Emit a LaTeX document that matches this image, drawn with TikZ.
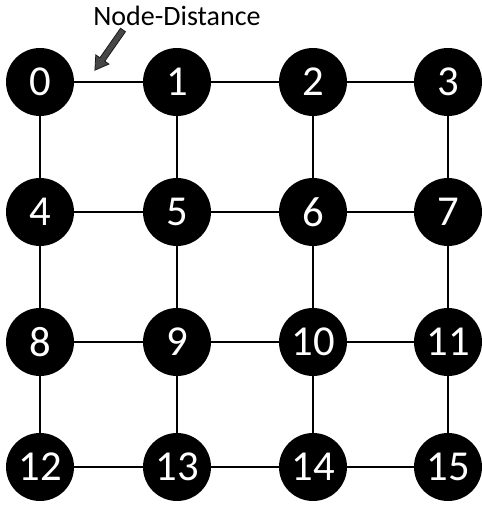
\documentclass[tikz,border=0pt]{standalone}
\usepackage{fontspec}
\setmainfont{Carlito}
\begin{document}
\begin{tikzpicture}[x=0.75pt,y=0.75pt,
  vert/.style={circle,fill=black,text=white,minimum size=51pt,inner sep=0pt,font=\fontsize{32}{32}\selectfont},
  edge/.style={draw=black,line width=1pt},
  lbl/.style={font=\fontsize{21}{21}\selectfont,inner sep=0pt}]
\useasboundingbox (0,0) rectangle (482,508);
\foreach \r/\y in {0/426,1/296,2/166,3/41}{
  \foreach \c/\x in {0/40,1/177,2/313,3/448}{
    \pgfmathtruncatemacro{\n}{\r*4+\c}
    \node[vert] (n\n) at (\x,\y) {\n};
  }
}
\foreach \a/\b in {0/1,1/2,2/3,4/5,5/6,6/7,8/9,9/10,10/11,12/13,13/14,14/15,0/4,4/8,8/12,1/5,5/9,9/13,2/6,6/10,10/14,3/7,7/11,11/15}{
  \draw[edge] (n\a) -- (n\b);
}
\node[lbl] (title) at (177,492) {Node-Distance};
\coordinate (tail) at (123,478);
\coordinate (tip) at (95,438);
\begin{scope}[shift={(tail)},rotate=235]
\filldraw[fill=black!72,draw=black!90,line width=0.6pt]
 (0,3) -- (36,3) -- (36,8) -- (49,0) -- (36,-8) -- (36,-3) -- (0,-3) -- cycle;
\end{scope}
\end{tikzpicture}
\end{document}
